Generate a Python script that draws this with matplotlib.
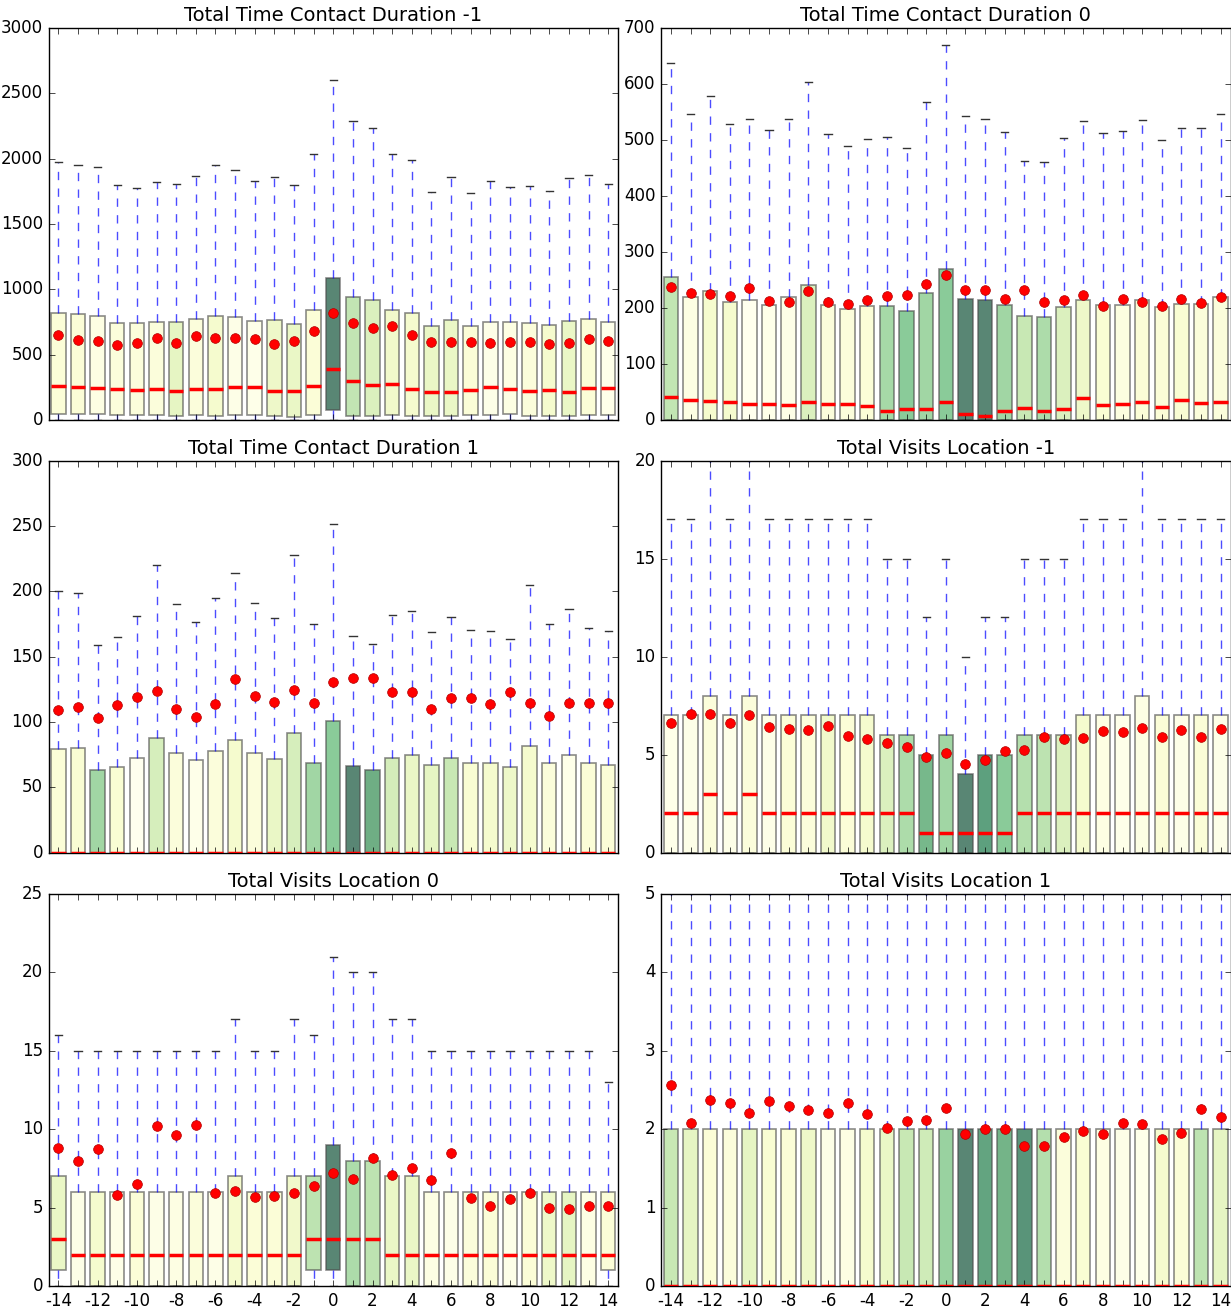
import matplotlib
matplotlib.use("Agg")
import matplotlib.pyplot as plt
import numpy as np

days = list(range(-14, 15))

titles = ["Total Time Contact Duration -1", "Total Time Contact Duration 0",
          "Total Time Contact Duration 1", "Total Visits Location -1",
          "Total Visits Location 0", "Total Visits Location 1"]
ylims = [3000, 700, 300, 20, 25, 5]
ysteps = [500, 100, 50, 5, 5, 1]

# --- Total Time Contact Duration -1
ttcd_m1_q1 = [43, 48, 43, 38, 38, 36, 31, 38, 31, 38, 36, 31, 23, 38, 74, 31, 31, 36, 28, 31, 31, 36, 36, 43, 31, 28, 28, 36, 36]
ttcd_m1_med = [257, 250, 245, 237, 229, 235, 222, 235, 235, 255, 250, 222, 222, 257, 393, 298, 265, 273, 240, 217, 217, 229, 255, 240, 222, 229, 214, 242, 242]
ttcd_m1_q3 = [818, 808, 800, 742, 739, 749, 747, 770, 800, 785, 757, 762, 732, 839, 1088, 943, 915, 844, 816, 716, 765, 721, 752, 747, 739, 724, 757, 772, 749]
ttcd_m1_hi = [1978, 1948, 1940, 1795, 1774, 1820, 1805, 1866, 1948, 1914, 1833, 1861, 1802, 2039, 2605, 2289, 2236, 2037, 1993, 1744, 1863, 1741, 1833, 1787, 1789, 1754, 1851, 1879, 1810]
ttcd_m1_mean = [653, 614, 607, 576, 591, 627, 591, 642, 630, 627, 622, 584, 602, 681, 818, 742, 701, 716, 653, 594, 596, 594, 591, 594, 596, 584, 589, 622, 607]
ttcd_m1_shade = [0.1, 0.1, 0.05, 0.08, 0.08, 0.08, 0.25, 0.08, 0.15, 0.03, 0.02, 0.2, 0.22, 0.1, 1.0, 0.4, 0.3, 0.18, 0.15, 0.22, 0.22, 0.1, 0.03, 0.05, 0.08, 0.15, 0.22, 0.1, 0.02]

# --- Total Time Contact Duration 0
ttcd_0_q1 = [0] * 29
ttcd_0_med = [41, 35, 34.5, 33, 29, 29, 26, 33, 29, 28, 25.6, 16, 19, 20, 33, 10, 8, 17, 21, 17, 20, 40, 26, 29, 33, 24, 36, 31, 32]
ttcd_0_q3 = [255, 219, 231, 211, 215, 206, 220, 242, 205, 198, 203, 203, 195, 226, 269, 217, 215, 206, 186, 184, 202, 214, 205, 206, 214, 201, 208, 207, 219]
ttcd_0_hi = [637, 547, 579, 528, 538, 518, 538, 604, 510, 490, 502, 506, 485, 568, 669, 543, 538, 514, 463, 461, 504, 534, 512, 516, 536, 500, 522, 521, 547]
ttcd_0_mean = [238, 227, 225, 221, 235, 212, 211, 231, 211, 208, 214, 221, 224, 243, 259, 232, 233, 216, 233, 210, 215, 224, 203, 216, 210, 204, 216, 209, 220]
ttcd_0_shade = [0.4, 0.05, 0.15, 0.15, 0.0, 0.02, 0.03, 0.3, 0.08, 0.08, 0.1, 0.5, 0.6, 0.52, 0.6, 1.0, 1.0, 0.52, 0.38, 0.48, 0.3, 0.2, 0.12, 0.06, 0.1, 0.1, 0.12, 0.08, 0.08]

# --- Total Time Contact Duration 1
ttcd_1_q1 = [0] * 29
ttcd_1_med = [0] * 29
ttcd_1_q3 = [79.6, 80.4, 63.5, 65.6, 72.2, 87.5, 76, 70.7, 77.6, 86, 76, 71.4, 91.3, 69, 100.8, 66.6, 63.5, 72.7, 74.5, 67.3, 72.2, 68.6, 68.4, 65.3, 81.6, 69, 74.5, 68.6, 67.3]
ttcd_1_hi = [200, 198.7, 158.7, 164.8, 180.9, 220, 190, 176.8, 194.6, 213.8, 190.8, 179.6, 227.8, 174.7, 251.8, 165.6, 159.7, 181.6, 185, 168.6, 180.6, 170.7, 170, 163.8, 204.8, 174.7, 186.7, 171.7, 170]
ttcd_1_mean = [109, 111.7, 103.3, 112.8, 119, 124, 110, 104, 113.8, 132.7, 120, 115.6, 124.5, 114.5, 130.6, 133.4, 133.4, 123.2, 123.2, 110.2, 118.6, 118.6, 113.8, 122.7, 114.3, 104.8, 114.3, 114.3, 114.3]
ttcd_1_shade = [0.1, 0.12, 0.52, 0.12, 0.0, 0.32, 0.08, 0.02, 0.08, 0.15, 0.08, 0.22, 0.32, 0.52, 0.6, 1.0, 0.75, 0.33, 0.22, 0.25, 0.38, 0.12, 0.15, 0.2, 0.15, 0.08, 0.02, 0.1, 0.1]

# --- Total Visits Location -1
tvl_m1_q1 = [0] * 29
tvl_m1_med = [2, 2, 3, 2, 3, 2, 2, 2, 2, 2, 2, 2, 2, 1, 1, 1, 1, 1, 2, 2, 2, 2, 2, 2, 2, 2, 2, 2, 2]
tvl_m1_q3 = [7, 7, 8, 7, 8, 7, 7, 7, 7, 7, 7, 6, 6, 5, 6, 4, 5, 5, 6, 6, 6, 7, 7, 7, 8, 7, 7, 7, 7]
tvl_m1_hi = [17, 17, 22, 17, 22, 17, 17, 17, 17, 17, 17, 15, 15, 12, 15, 10, 12, 12, 15, 15, 15, 17, 17, 17, 22, 17, 17, 17, 17]
tvl_m1_mean = [6.64, 7.05, 7.08, 6.64, 7.02, 6.41, 6.32, 6.25, 6.44, 5.95, 5.78, 5.58, 5.41, 4.9, 5.1, 4.53, 4.73, 5.2, 5.25, 5.9, 5.78, 5.85, 6.19, 6.14, 6.36, 5.92, 6.25, 5.9, 6.29]
tvl_m1_shade = [0.02, 0.03, 0.08, 0.03, 0.08, 0.03, 0.1, 0.08, 0.18, 0.1, 0.15, 0.3, 0.48, 0.7, 0.52, 1.0, 0.85, 0.6, 0.45, 0.42, 0.3, 0.15, 0.05, 0.02, 0.05, 0.1, 0.03, 0.1, 0.03]

# --- Total Visits Location 0
tvl_0_q1 = [1, 0, 0, 0, 0, 0, 0, 0, 0, 0, 0, 0, 0, 1, 1, 0, 0, 0, 0, 0, 0, 0, 0, 0, 0, 0, 0, 0, 1]
tvl_0_med = [3, 2, 2, 2, 2, 2, 2, 2, 2, 2, 2, 2, 2, 3, 3, 3, 3, 2, 2, 2, 2, 2, 2, 2, 2, 2, 2, 2, 2]
tvl_0_q3 = [7, 6, 6, 6, 6, 6, 6, 6, 6, 7, 6, 6, 7, 7, 9, 8, 8, 7, 7, 6, 6, 6, 6, 6, 6, 6, 6, 6, 6]
tvl_0_hi = [16, 15, 15, 15, 15, 15, 15, 15, 15, 17, 15, 15, 17, 16, 21, 20, 20, 17, 17, 15, 15, 15, 15, 15, 15, 15, 15, 15, 13]
tvl_0_mean = [8.78, 7.99, 8.74, 5.78, 6.48, 10.2, 9.61, 10.25, 5.95, 6.08, 5.7, 5.74, 5.95, 6.4, 7.23, 6.85, 8.16, 7.1, 7.53, 6.78, 8.48, 5.61, 5.1, 5.55, 5.95, 4.97, 4.91, 5.08, 5.08]
tvl_0_shade = [0.22, 0.03, 0.15, 0.03, 0.1, 0.03, 0.05, 0.08, 0.03, 0.15, 0.1, 0.1, 0.18, 0.42, 1.0, 0.48, 0.42, 0.22, 0.22, 0.05, 0.03, 0.08, 0.1, 0.03, 0.1, 0.2, 0.25, 0.05, 0.1]

# --- Total Visits Location 1
tvl_1_q1 = [0] * 29
tvl_1_med = [0] * 29
tvl_1_q3 = [2] * 29
tvl_1_hi = [6] * 29
tvl_1_mean = [2.56, 2.08, 2.37, 2.33, 2.2, 2.36, 2.3, 2.24, 2.21, 2.33, 2.19, 2.02, 2.1, 2.12, 2.27, 1.94, 2.0, 2.0, 1.79, 1.78, 1.9, 1.97, 1.94, 2.08, 2.06, 1.88, 1.95, 2.26, 2.16]
tvl_1_shade = [0.38, 0.25, 0.1, 0.08, 0.25, 0.12, 0.1, 0.2, 0.03, 0.05, 0.15, 0.22, 0.38, 0.35, 0.55, 1.0, 0.82, 0.72, 0.92, 0.45, 0.08, 0.12, 0.05, 0.03, 0.02, 0.15, 0.1, 0.42, 0.25]

panels = [
    (ttcd_m1_q1, ttcd_m1_med, ttcd_m1_q3, ttcd_m1_hi, ttcd_m1_mean, ttcd_m1_shade),
    (ttcd_0_q1, ttcd_0_med, ttcd_0_q3, ttcd_0_hi, ttcd_0_mean, ttcd_0_shade),
    (ttcd_1_q1, ttcd_1_med, ttcd_1_q3, ttcd_1_hi, ttcd_1_mean, ttcd_1_shade),
    (tvl_m1_q1, tvl_m1_med, tvl_m1_q3, tvl_m1_hi, tvl_m1_mean, tvl_m1_shade),
    (tvl_0_q1, tvl_0_med, tvl_0_q3, tvl_0_hi, tvl_0_mean, tvl_0_shade),
    (tvl_1_q1, tvl_1_med, tvl_1_q3, tvl_1_hi, tvl_1_mean, tvl_1_shade),
]


def make_stats(q1, med, q3, hi, mean):
    stats = []
    for i in range(len(q1)):
        stats.append(dict(q1=q1[i], med=med[i], q3=q3[i], whislo=0, whishi=hi[i],
                          mean=mean[i], fliers=[]))
    return stats


plt.style.use("classic")
fig = plt.figure(figsize=(12.31, 13.09), dpi=100, facecolor="white")
cmap = plt.get_cmap("YlGn")

lefts = [0.0394, 0.537]
bottoms = [0.6791, 0.3486, 0.0176]
w, h = 0.4626, 0.2995

for k, (q1, med, q3, hi, mean, shade) in enumerate(panels):
    row, col = divmod(k, 2)
    ax = fig.add_axes([lefts[col], bottoms[row], w, h])
    bp = ax.bxp(make_stats(q1, med, q3, hi, mean), positions=days, widths=0.74,
                patch_artist=True, showmeans=True, showfliers=False,
                whiskerprops=dict(color="b", linestyle="--", linewidth=1, alpha=0.7),
                capprops=dict(color="0.2", linewidth=1),
                medianprops=dict(color="red", linewidth=2.5),
                meanprops=dict(marker="o", markerfacecolor="red", markeredgecolor="#b00000",
                               markeredgewidth=0.5, markersize=7, linestyle="none"),
                boxprops=dict(edgecolor="0.3", linewidth=1.2))
    # box fill coloured by level, translucent like the original
    for patch, s in zip(bp["boxes"], shade):
        patch.set_facecolor(cmap(s))
        patch.set_alpha(0.65)
    for m in bp["medians"]:
        m.set_zorder(3)
    ax.set_xlim(-14.5, 14.5)
    ax.set_ylim(0, ylims[k])
    ax.set_yticks(np.arange(0, ylims[k] + 1e-9, ysteps[k]))
    ax.set_xticks(days)
    if row == 2:
        ax.set_xticklabels([str(d) if d % 2 == 0 else "" for d in days])
    else:
        ax.set_xticklabels([])
    ax.set_title(titles[k], fontsize=14)
    ax.tick_params(labelsize=12)

fig.savefig("out.png", dpi=100, facecolor="white")
